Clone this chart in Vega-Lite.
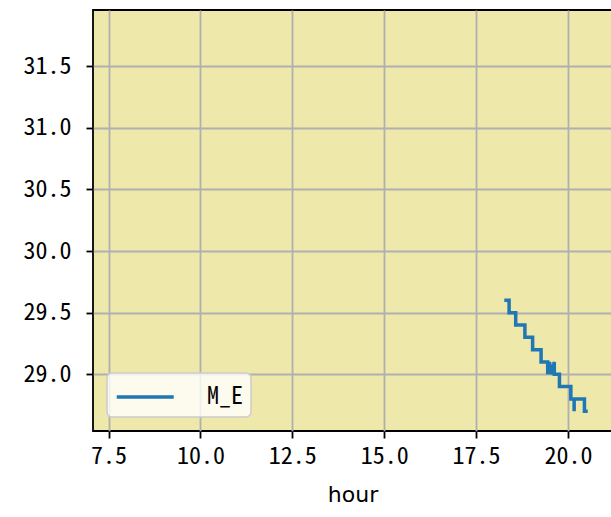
{
  "$schema": "https://vega.github.io/schema/vega-lite/v6.json",
  "width": 519,
  "height": 421,
  "autosize": {"type": "none"},
  "padding": {"left": 93, "top": 10, "right": 0, "bottom": 86},
  "background": "white",
  "config": {
    "view": {"fill": "#EEE8AA", "stroke": "black", "strokeWidth": 1.8},
    "axis": {
      "domain": false,
      "grid": true,
      "gridColor": "#b0b0b0",
      "gridWidth": 1.8,
      "ticks": true,
      "tickColor": "black",
      "tickWidth": 1.8,
      "tickSize": 7,
      "labelColor": "black",
      "labelFont": "Noto Sans Mono CJK SC, DejaVu Sans Mono",
      "labelFontSize": 24
    },
    "legend": {
      "orient": "bottom-left",
      "offset": 14,
      "fillColor": "rgba(255,255,255,0.8)",
      "strokeColor": "#cccccc",
      "strokeWidth": 1.5,
      "cornerRadius": 5,
      "padding": 8,
      "symbolType": "M-1,0H3",
      "symbolSize": 812,
      "symbolStrokeWidth": 3.5,
      "symbolFillColor": "transparent",
      "labelFont": "Noto Sans Mono CJK SC, DejaVu Sans Mono",
      "labelFontSize": 24,
      "labelColor": "black",
      "labelOffset": 60
    }
  },
  "data": {
    "values": [
      {"i": 0, "hour": 18.27, "temp": 29.6},
      {"i": 1, "hour": 18.40, "temp": 29.6},
      {"i": 2, "hour": 18.40, "temp": 29.5},
      {"i": 3, "hour": 18.58, "temp": 29.5},
      {"i": 4, "hour": 18.58, "temp": 29.4},
      {"i": 5, "hour": 18.83, "temp": 29.4},
      {"i": 6, "hour": 18.83, "temp": 29.3},
      {"i": 7, "hour": 19.04, "temp": 29.3},
      {"i": 8, "hour": 19.04, "temp": 29.2},
      {"i": 9, "hour": 19.27, "temp": 29.2},
      {"i": 10, "hour": 19.27, "temp": 29.1},
      {"i": 11, "hour": 19.45, "temp": 29.1},
      {"i": 12, "hour": 19.45, "temp": 29.0},
      {"i": 13, "hour": 19.50, "temp": 29.1},
      {"i": 14, "hour": 19.55, "temp": 29.0},
      {"i": 15, "hour": 19.63, "temp": 29.1},
      {"i": 16, "hour": 19.63, "temp": 29.0},
      {"i": 17, "hour": 19.77, "temp": 29.0},
      {"i": 18, "hour": 19.77, "temp": 28.9},
      {"i": 19, "hour": 20.08, "temp": 28.9},
      {"i": 20, "hour": 20.08, "temp": 28.8},
      {"i": 21, "hour": 20.17, "temp": 28.8},
      {"i": 22, "hour": 20.17, "temp": 28.7},
      {"i": 23, "hour": 20.17, "temp": 28.8},
      {"i": 24, "hour": 20.45, "temp": 28.8},
      {"i": 25, "hour": 20.45, "temp": 28.7},
      {"i": 26, "hour": 20.54, "temp": 28.7}
    ]
  },
  "mark": {"type": "line", "strokeWidth": 3.5, "clip": true},
  "encoding": {
    "x": {
      "field": "hour",
      "type": "quantitative",
      "scale": {"domain": [7.078, 21.2], "nice": false, "zero": false},
      "axis": {
        "values": [7.5, 10, 12.5, 15, 17.5, 20],
        "format": ".1f",
        "labelPadding": 6,
        "title": "hour",
        "titleFont": "DejaVu Sans",
        "titleFontSize": 22,
        "titleFontWeight": "normal",
        "titleColor": "black",
        "titlePadding": 16
      }
    },
    "y": {
      "field": "temp",
      "type": "quantitative",
      "scale": {"domain": [28.54, 31.955], "nice": false, "zero": false},
      "axis": {
        "values": [29, 29.5, 30, 30.5, 31, 31.5],
        "format": ".1f",
        "labelPadding": 15,
        "title": null
      }
    },
    "order": {"field": "i"},
    "color": {
      "datum": "M_E",
      "type": "nominal",
      "scale": {"range": ["#1f77b4"]},
      "legend": {"title": null}
    }
  }
}
